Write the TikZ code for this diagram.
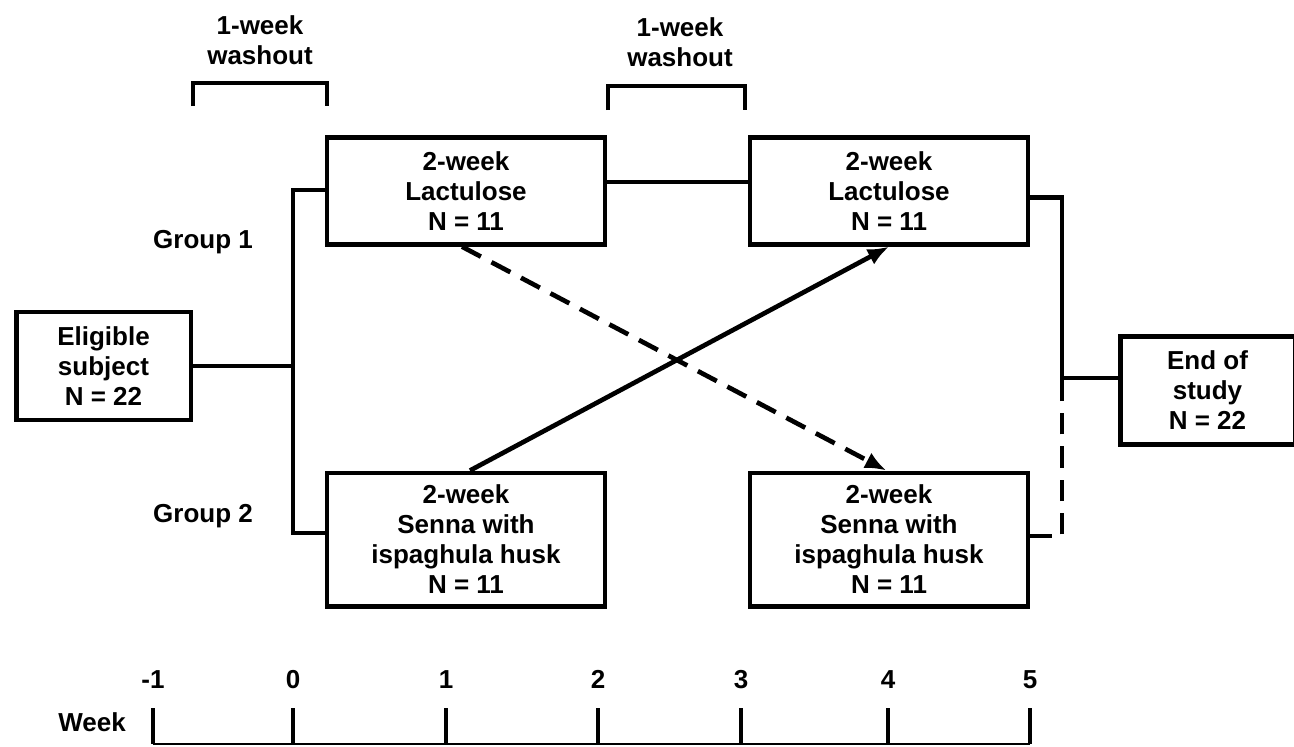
\documentclass[tikz,border=0pt]{standalone}
\usepackage{fontspec}
\setmainfont{Liberation Sans}
\usetikzlibrary{arrows.meta,positioning}

\begin{document}
\begin{tikzpicture}[x=0.75pt,y=-0.75pt,% one unit = one pixel of the layout
				every node/.style={
					align=center,  		% "\\" breaks lines in the boxes
					font=\fontsize{19.5}{22.5}\selectfont\bfseries
				},
				box/.style={rectangle,draw=black,line width=3.5pt,minimum width=208.5pt,minimum height=80pt,inner sep=0pt},
				endbox/.style={box,minimum width=131pt,minimum height=81pt},
				line/.style={draw,line width=3.5pt},
				dashline/.style={line,dash pattern=on 16pt off 9pt},
				every edge/.style={draw,line width=3.5pt}
			]
			\useasboundingbox (0,0) rectangle (1294,746);
			\node[endbox](R1) at (103.5,366){Eligible\\subject\\N = 22};
			\node[box](R2) at (466,191){2-week\\Lactulose\\N = 11};
			\node[box](R3) at (889,191){2-week\\Lactulose\\N = 11};
			\node[box,minimum height=100pt](R4) at (466,539.5){2-week\\Senna with\\ispaghula husk\\N = 11};
			\node[box,minimum height=100pt](R5) at (889,539.5){2-week\\Senna with\\ispaghula husk\\N = 11};
			\node[endbox](R6) at (1207.5,390.5){End of\\study\\N = 22};
			\node(G1) at (203,242){Group 1};
			\node(G2) at (203,516){Group 2};
			\node(W1) at (260,40){1-week\\washout};
			\node(W2) at (680,42){1-week\\washout};
			\coordinate (J1) at (293,366);
			\coordinate (J2) at (1062,378);
			% branches
			\draw[line] ([yshift=0.7pt]R2.west) -| (J1) |- ([yshift=4.9pt]R4.west);
			\draw[line] (R1.east) -- (J1);
			\draw[line] ([yshift=6.75pt]R2.east) -- ([yshift=6.75pt]R3.west);
			\draw[line] ([yshift=-5pt]R3.east) -| (J2) -- (J2 -| R6.west);
			\draw[dashline] ([yshift=2.6pt]R5.east) -| (J2);
			% crossover
			\path[-{Latex[length=16pt,width=13pt]}]
			([xshift=3pt]R4.north)edge [] (R3.south)
			([xshift=-3pt]R2.south)edge [dash pattern=on 16pt off 9pt] ([xshift=-2pt]R5.north)
			;
			% washout brackets
			\draw[line] (193,106) |- (327,83) -- (327,106);
			\draw[line] (608,110) |- (745,86) -- (745,110);
			% time axis
			\node(WK) at (92,722){Week};
			\draw[line width=1.5pt] (153,744) -- (1030,744);
			\foreach \x/\w in {153/-1,293/0,446/1,598/2,741/3,888/4,1030/5}{
				\node[anchor=base](T\x) at (\x,688){\w};
				\draw[line] (\x,708) -- (\x,744);
			}
		\end{tikzpicture}
\end{document}
